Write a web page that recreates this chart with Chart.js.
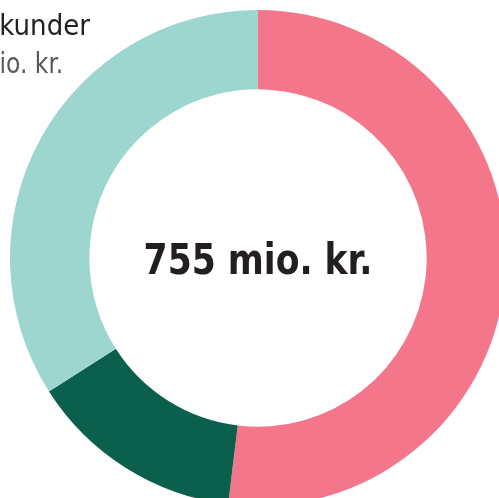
<!DOCTYPE html>
<html>
<head>
<meta charset="utf-8">
<script src="https://cdn.jsdelivr.net/npm/chart.js@4/dist/chart.umd.min.js"></script>
<style>
  html, body { margin: 0; padding: 0; background: #fff; overflow: hidden; width: 499px; height: 498px; }
  #wrap { position: absolute; left: 0; top: 0; width: 516px; height: 516px; }
  .center-label {
    position: absolute; left: 0; top: 0; width: 516px; height: 516px;
    display: flex; align-items: center; justify-content: center;
    font-family: "DejaVu Sans Condensed", "DejaVu Sans", sans-serif; font-weight: bold;
    font-size: 42px; color: #231f20; pointer-events: none; padding-top: 3px; box-sizing: border-box;
  }
  .center-label span { display: inline-block; transform: scaleX(0.915); }
  .seg-label {
    position: absolute; right: calc(100% - 90px); top: 6px; white-space: nowrap; text-align: right;
    font-family: "DejaVu Sans Condensed", "DejaVu Sans", sans-serif; line-height: 38px;
  }
  .seg-label .name { font-size: 29px; color: #231f20; }
  .seg-label .amount { font-size: 29px; color: #58595b; margin-right: 27px; transform: scaleX(0.9); transform-origin: right center; }
</style>
</head>
<body>
<div id="wrap">
  <canvas id="donut" width="516" height="516"></canvas>
  <div class="center-label"><span id="total"></span></div>
</div>
<div class="seg-label">
  <div class="name" id="seg-name"></div>
  <div class="amount" id="seg-amount"></div>
</div>
<script>
// segment data (mio. kr.)
const categories = ['Privatkunder', 'Kapitalmarkedskunder', 'Erhvervskunder'];
const values = [392, 106, 257];
const colors = ['#f4768a', '#0b604d', '#9dd6cf'];

const total = values.reduce((a, b) => a + b, 0);
document.getElementById('total').textContent = total + ' mio. kr.';
document.getElementById('seg-name').textContent = categories[2];
document.getElementById('seg-amount').textContent = values[2] + ' mio. kr.';

new Chart(document.getElementById('donut'), {
  type: 'doughnut',
  data: {
    labels: categories,
    datasets: [{
      data: values,
      backgroundColor: colors,
      borderWidth: 0
    }]
  },
  options: {
    responsive: false,
    animation: false,
    cutout: '68%',
    layout: { padding: 10 },
    plugins: { legend: { display: false }, tooltip: { enabled: false } }
  }
});
</script>
</body>
</html>
